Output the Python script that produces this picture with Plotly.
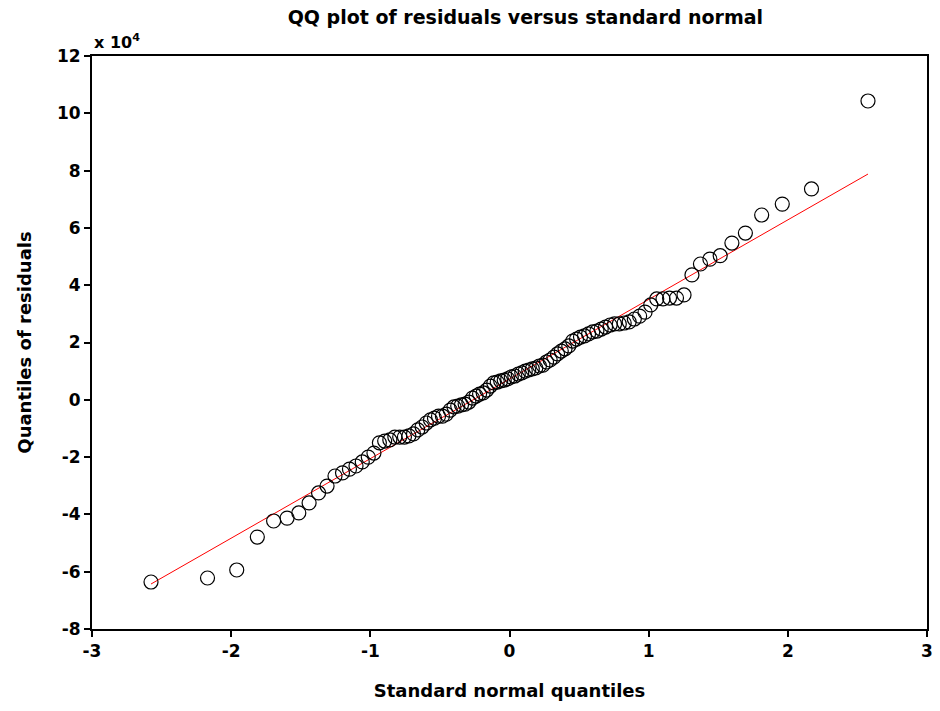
import plotly.graph_objects as go

# Theoretical standard normal quantiles for n = 100, p = (i - 0.5) / 100 (lower half)
z_lower = [2.576, 2.170, 1.960, 1.812, 1.695, 1.598, 1.514, 1.440, 1.372, 1.311,
           1.254, 1.200, 1.150, 1.103, 1.058, 1.015, 0.974, 0.935, 0.897, 0.860,
           0.824, 0.789, 0.755, 0.723, 0.690, 0.659, 0.628, 0.598, 0.568, 0.539,
           0.510, 0.482, 0.454, 0.426, 0.399, 0.372, 0.345, 0.319, 0.292, 0.266,
           0.240, 0.215, 0.189, 0.164, 0.138, 0.113, 0.088, 0.063, 0.038, 0.013]
normal_quantiles = [-v for v in z_lower] + z_lower[::-1]

# Sorted residual quantiles, in units of 1e4
residual_quantiles = [
    -6.36, -6.22, -5.94, -4.79, -4.23, -4.13, -3.95, -3.60, -3.25, -3.01,
    -2.66, -2.55, -2.42, -2.31, -2.17, -2.00, -1.86, -1.50, -1.44, -1.40,
    -1.30, -1.30, -1.30, -1.26, -1.19, -1.05, -0.95, -0.81, -0.70, -0.64,
    -0.57, -0.57, -0.50, -0.36, -0.25, -0.22, -0.18, -0.15, -0.08, 0.06,
    0.13, 0.20, 0.24, 0.34, 0.48, 0.59, 0.62, 0.66, 0.69, 0.73,
    0.80, 0.83, 0.90, 0.94, 1.00, 1.04, 1.08, 1.11, 1.18, 1.21,
    1.32, 1.39, 1.49, 1.60, 1.70, 1.78, 1.88, 2.05, 2.12, 2.19,
    2.23, 2.30, 2.37, 2.40, 2.47, 2.54, 2.61, 2.65, 2.65, 2.68,
    2.72, 2.82, 2.92, 3.06, 3.31, 3.52, 3.52, 3.55, 3.55, 3.66,
    4.36, 4.74, 4.91, 5.03, 5.47, 5.82, 6.45, 6.83, 7.36, 10.43,
]

# Reference line endpoints (through the quartiles, extended to the data range)
ref_x = [-2.576, 2.576]
ref_y = [-6.43, 7.88]

x_ticks = [-3, -2, -1, 0, 1, 2, 3]
y_ticks = [-8, -6, -4, -2, 0, 2, 4, 6, 8, 10, 12]

font_family = "DejaVu Sans, Verdana, sans-serif"

fig = go.Figure()
fig.add_trace(go.Scatter(
    x=ref_x, y=ref_y, mode="lines",
    line=dict(color="#ff0000", width=1),
    showlegend=False, hoverinfo="skip",
))
fig.add_trace(go.Scatter(
    x=normal_quantiles, y=residual_quantiles, mode="markers",
    marker=dict(symbol="circle-open", size=14, color="black",
                line=dict(color="black", width=1.2)),
    showlegend=False,
))

axis_common = dict(
    showgrid=False, zeroline=False, showline=True, linecolor="black",
    linewidth=2, mirror=True, ticks="outside", ticklen=6, tickwidth=2,
    tickcolor="black",
    tickfont=dict(family=font_family, size=17, color="black", weight="bold"),
)

fig.update_layout(
    width=940, height=711,
    margin=dict(l=92, r=7, t=56, b=82),
    paper_bgcolor="white", plot_bgcolor="white",
    title=dict(
        text="<b>QQ plot of residuals versus standard normal</b>",
        x=0.519, xref="paper", xanchor="center", y=0.976, yanchor="middle",
        font=dict(family=font_family, size=19, color="black"),
    ),
    xaxis=dict(
        range=[-3, 3], tickvals=x_ticks, ticktext=[str(v) for v in x_ticks],
        title=dict(text="<b>Standard normal quantiles</b>", standoff=24,
                   font=dict(family=font_family, size=18, color="black")),
        **axis_common,
    ),
    yaxis=dict(
        range=[-8, 12], tickvals=y_ticks, ticktext=[str(v) for v in y_ticks],
        title=dict(text="<b>Quantiles of residuals</b>", standoff=21,
                   font=dict(family=font_family, size=18, color="black")),
        **axis_common,
    ),
    annotations=[dict(
        text="<b>x 10<sup>4</sup></b>", xref="paper", yref="paper",
        x=0, y=1, xanchor="left", yanchor="bottom", yshift=2, showarrow=False,
        font=dict(family=font_family, size=16, color="black"),
    )],
)

fig.write_html("out.html")
